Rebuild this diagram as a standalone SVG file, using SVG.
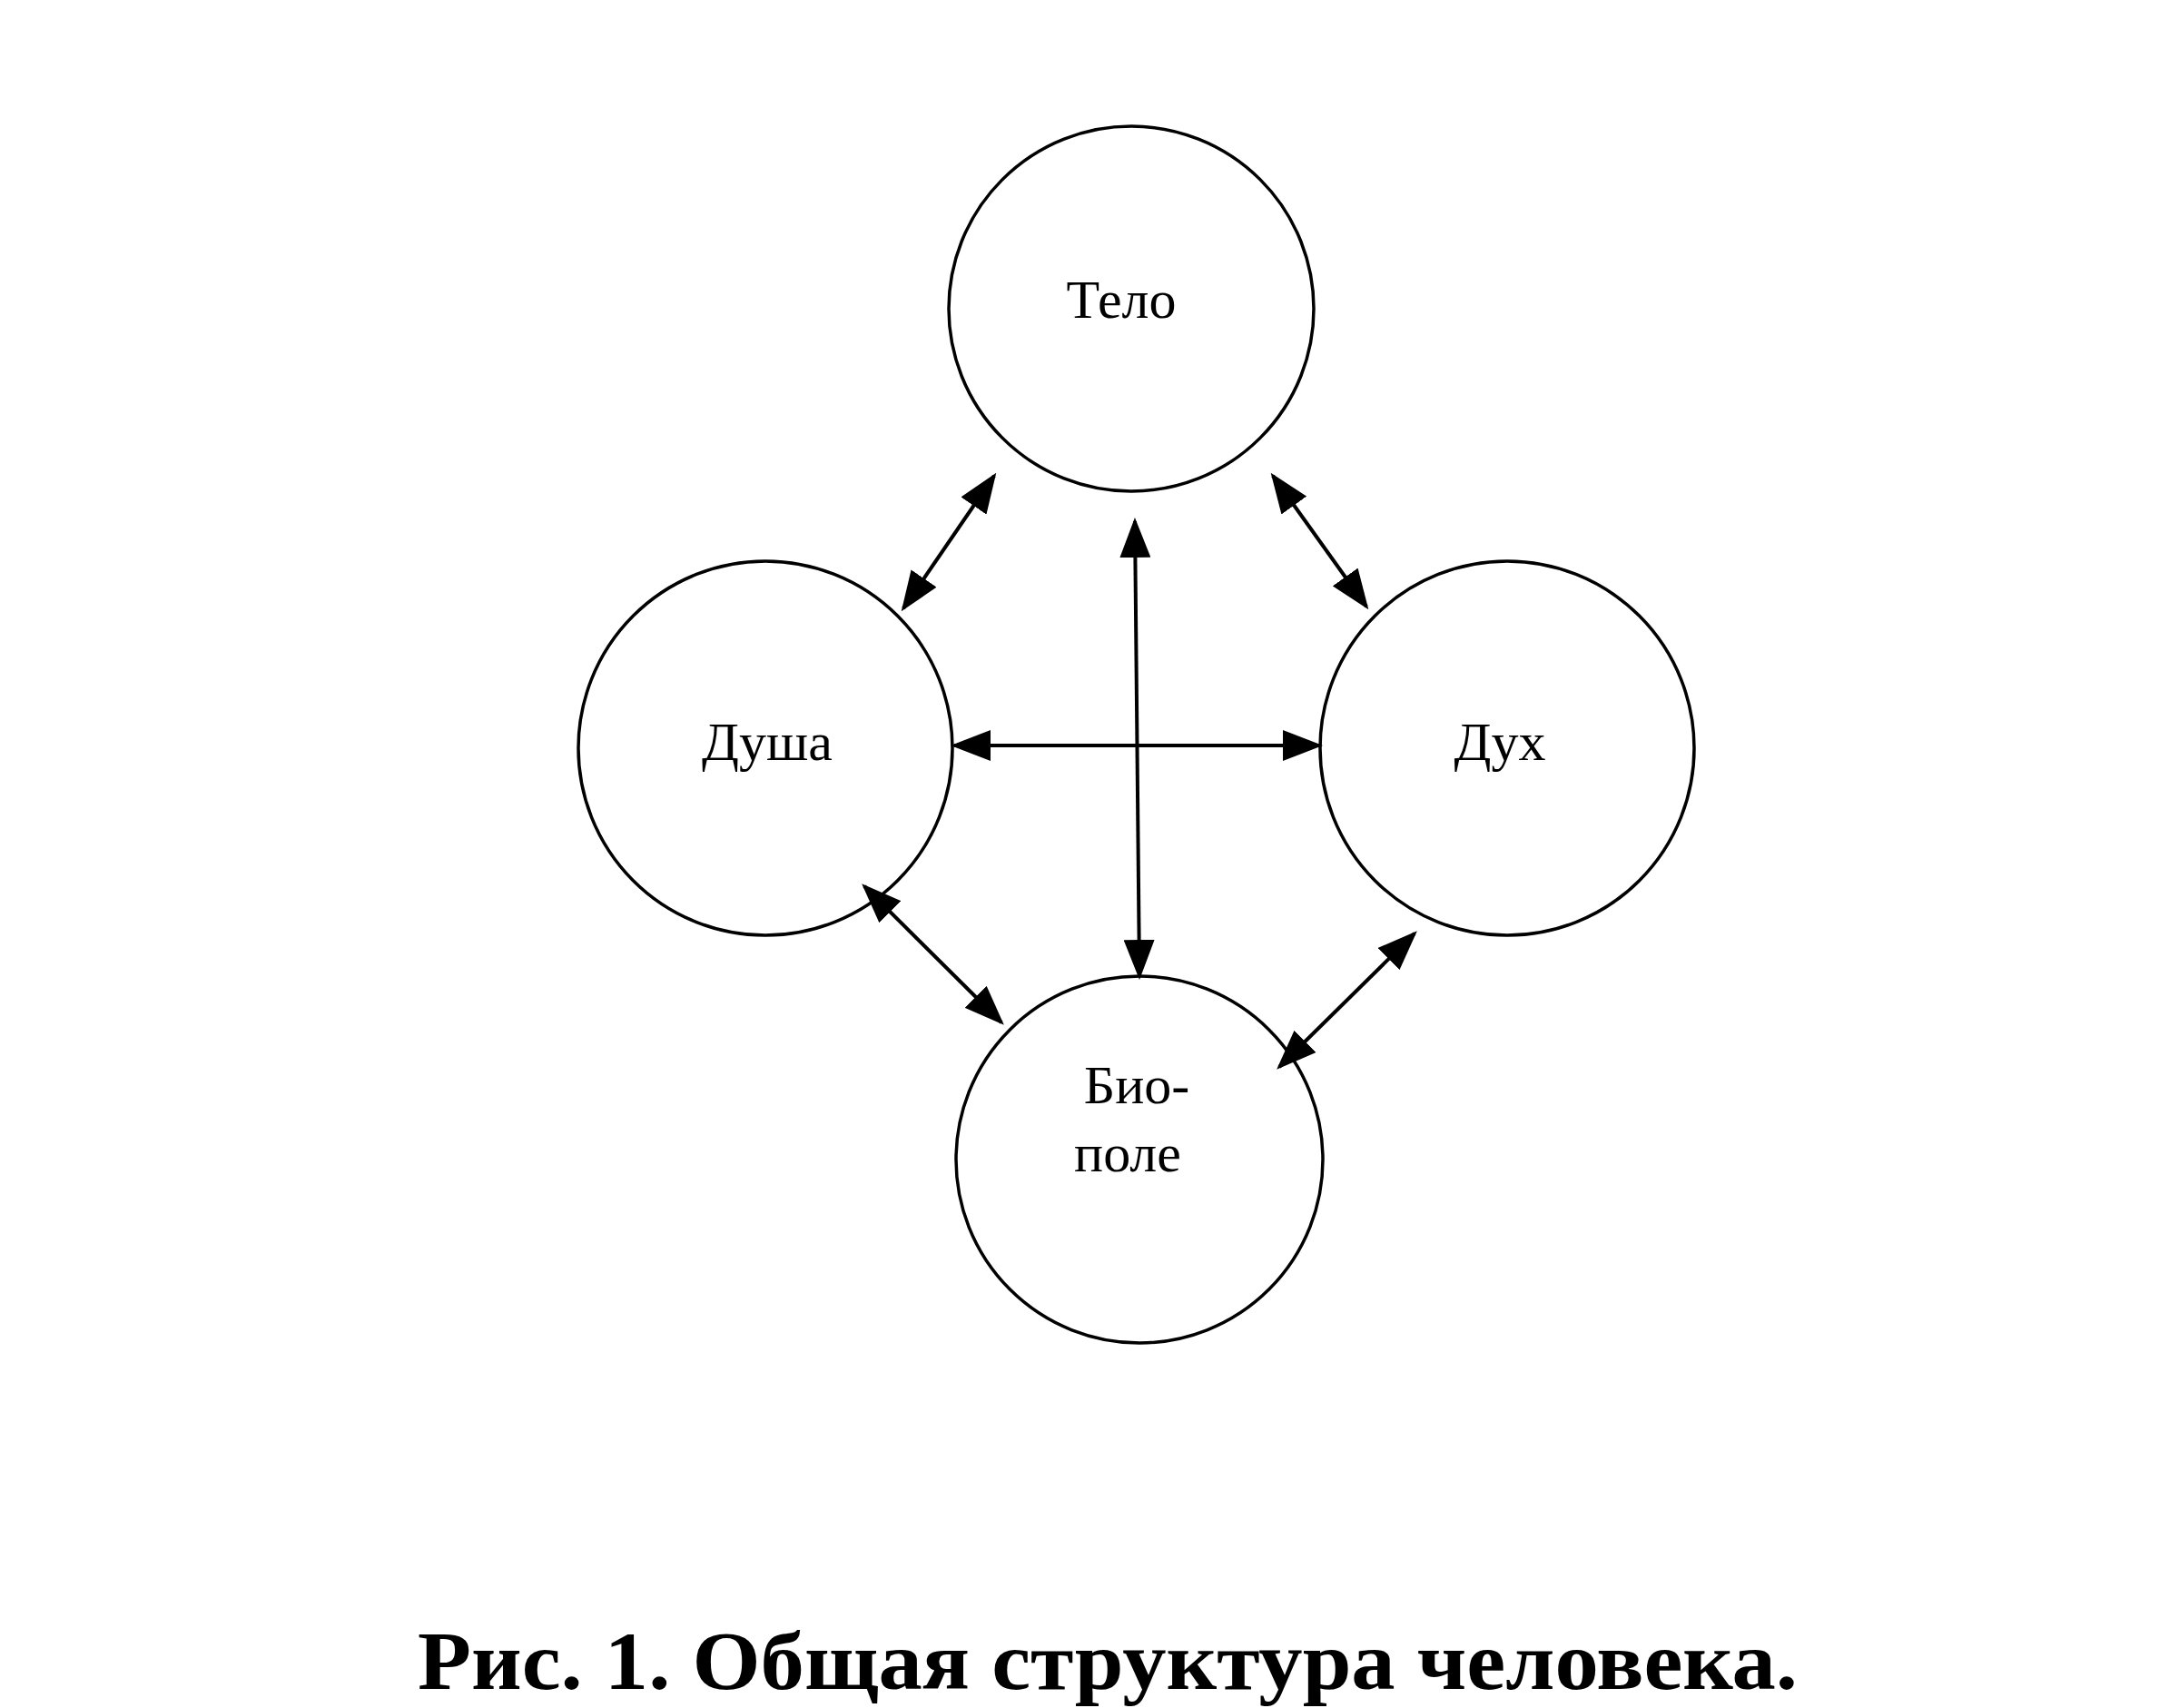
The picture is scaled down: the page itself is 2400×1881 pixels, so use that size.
<svg xmlns="http://www.w3.org/2000/svg" width="2400" height="1881" viewBox="0 0 2400 1881">
<style>
.n{fill:none;stroke:#000;stroke-width:3.5}
.t{font-family:"Liberation Serif",serif;font-size:60px;text-anchor:middle;fill:#000}
.c line{stroke:#000;stroke-width:4;marker-start:url(#a);marker-end:url(#a)}
</style>
<defs>
<marker id="a" markerUnits="userSpaceOnUse" markerWidth="44" markerHeight="34" refX="40" refY="17" orient="auto-start-reverse" viewBox="0 0 44 34"><path d="M0,0 L44,17 L0,34 Z" fill="#000"/></marker>
</defs>
<rect width="2400" height="1881" fill="#fff"/>
<g transform="translate(-10,-3)">
<g id="telo"><circle class="n" cx="1256" cy="343" r="201"/><text class="t" x="1245" y="353">Тело</text></g>
<g id="dusha"><circle class="n" cx="853" cy="827" r="206"/><text class="t" x="855" y="840">Душа</text></g>
<g id="dukh"><circle class="n" cx="1670" cy="827" r="206"/><text class="t" x="1662" y="840">Дух</text></g>
<g id="biopole"><circle class="n" cx="1265" cy="1280" r="202"/><text class="t" x="1262" y="1218">Био-</text><text class="t" x="1252" y="1293">поле</text></g>
<g class="c" id="connectors">
<line x1="1105" y1="527" x2="1005" y2="673"/>
<line x1="1412" y1="527" x2="1515" y2="671"/>
<line x1="1260" y1="577" x2="1265" y2="1078"/>
<line x1="1061" y1="824" x2="1463" y2="824"/>
<line x1="962" y1="979" x2="1113" y2="1129"/>
<line x1="1568" y1="1031" x2="1419" y2="1178"/>
</g>
</g>
<text x="1220" y="1860" font-family="Liberation Serif,serif" font-weight="bold" font-size="90" text-anchor="middle" textLength="1520" lengthAdjust="spacingAndGlyphs">Рис. 1. Общая структура человека.</text>
</svg>
